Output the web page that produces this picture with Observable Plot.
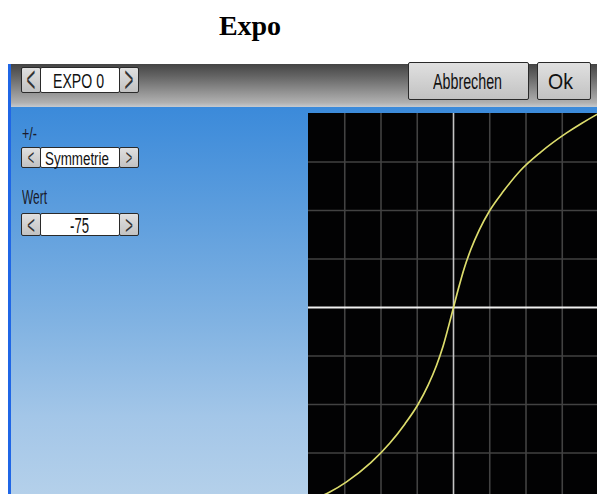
<!DOCTYPE html>
<html>
<head>
<meta charset="utf-8">
<script src="https://cdn.jsdelivr.net/npm/d3@7"></script>
<script src="https://cdn.jsdelivr.net/npm/@observablehq/plot@0.6"></script>
<style>
  html, body { margin: 0; padding: 0; background: #fff; width: 597px; height: 494px; overflow: hidden; }
  .abs { position: absolute; box-sizing: border-box; }
  #title { left: 0; top: 9px; width: 500px; text-align: center; font-family: "Liberation Serif", "Times New Roman", serif; font-weight: bold; font-size: 28px; line-height: 34px; color: #000; }
  #header { left: 8px; top: 64px; width: 589px; height: 43px; background: linear-gradient(to bottom, #444 0%, #666 30%, #929292 65%, #b0b0b0 90%, #c6cacf 100%); }
  #panel { left: 8px; top: 107px; width: 589px; height: 387px; background: linear-gradient(to bottom, #3b8ada 0%, #5a9cdd 25%, #80b2e2 55%, #a3c6e8 80%, #b4d0ea 100%); }
  #edge { left: 8px; top: 64px; width: 3px; height: 430px; background: #1f66e6; }
  .btn { border: 1.5px solid #2a2a2a; border-radius: 2px; background: linear-gradient(to bottom, #e0e0e0, #c2c2c2); }
  .box { border: 1.5px solid #2a2a2a; border-radius: 2px; background: #fff; }
  .t { position: absolute; font-family: "Liberation Sans", Arial, sans-serif; color: #111; white-space: nowrap; transform-origin: left top; line-height: 1; }
  .arr { position: absolute; width: 20px; text-align: center; font-family: "Liberation Sans", Arial, sans-serif; color: #333; transform-origin: 50% 50%; white-space: nowrap; }
  #chart { position: absolute; left: 308px; top: 113px; }
</style>
</head>
<body>
<div id="title" class="abs">Expo</div>
<div id="header" class="abs"></div>
<div id="panel" class="abs"></div>
<div id="edge" class="abs"></div>
<div id="ui"></div>
<div id="chart"></div>
<script>
// ---- data ----
const titleText = "Expo";
const channelLabel = "EXPO 0";
const cancelLabel = "Abbrechen";
const okLabel = "Ok";
const modeLabel = "+/-";
const modeValue = "Symmetrie";
const valueLabel = "Wert";
const expoValue = -75;
const prevLabel = "<";
const nextLabel = ">";

const gridTicks = [-0.75, -0.5, -0.25, 0.25, 0.5, 0.75];
const axisTicks = [0];
const curveX = [-1, -0.85, -0.74, -0.57, -0.44, -0.335, -0.245, -0.175, -0.118, -0.072, -0.035, 0, 0.035, 0.073, 0.12, 0.178, 0.25, 0.345, 0.46, 0.6, 0.78, 0.885, 1];
const curveY = [-1, -0.95, -0.9, -0.8, -0.7, -0.6, -0.5, -0.4, -0.3, -0.2, -0.1, 0, 0.1, 0.2, 0.3, 0.4, 0.5, 0.6, 0.705, 0.8, 0.9, 0.95, 1];

// ---- UI widgets (HTML decoration) ----
const ui = document.getElementById("ui");
function el(cls, css) {
  const d = document.createElement("div");
  d.className = "abs " + cls;
  d.style.cssText = css;
  ui.appendChild(d);
  return d;
}
// text placed with its left/top, font size and a target width (condensed look)
function txt(text, left, top, size, width, color) {
  const s = document.createElement("span");
  s.className = "t";
  s.textContent = text;
  s.style.left = left + "px";
  s.style.top = top + "px";
  s.style.fontSize = size + "px";
  if (color) s.style.color = color;
  ui.appendChild(s);
  const w = s.getBoundingClientRect().width;
  s.style.transform = `scaleX(${width / w})`;
  return s;
}
function arrowBtn(ch, left, top, h, fs, sy) {
  el("btn", `left:${left}px;top:${top}px;width:20px;height:${h}px;`);
  const s = document.createElement("span");
  s.className = "arr";
  s.textContent = ch;
  s.style.fontSize = fs + "px";
  s.style.lineHeight = fs + "px";
  s.style.left = left + "px";
  s.style.top = (top + h / 2 - fs / 2) + "px";
  s.style.transform = `scale(0.5, ${sy})`;
  ui.appendChild(s);
}
function selector(top, h, text, size, tw, tl, afs, asy) {
  arrowBtn(prevLabel, 21, top, h, afs, asy);
  el("box", `left:40px;top:${top}px;width:80px;height:${h}px;`);
  arrowBtn(nextLabel, 119, top, h, afs, asy);
  txt(text, tl, top + (h - size) / 2 + 1, size, tw);
}
selector(67, 26, channelLabel, 20, 51, 53, 30, 1.2);
el("btn", "left:408px;top:62px;width:121px;height:38px;");
el("btn", "left:537px;top:62px;width:54px;height:38px;");
txt(cancelLabel, 433, 71, 22, 69);
txt(okLabel, 548, 71, 22, 25);
txt(modeLabel, 22, 124, 19, 15, "#1a1a2a");
selector(147, 21, modeValue, 18, 64, 45, 22, 1);
txt(valueLabel, 22, 187, 20, 25, "#1a1a2a");
selector(213, 23, String(expoValue), 22, 19, 70, 26, 1);

// ---- chart ----
const data = curveX.map((x, i) => ({x, y: curveY[i]}));
const chart = Plot.plot({
  width: 289,
  height: 381,
  margin: 0,
  x: {domain: [-1, 0.993], axis: null},
  y: {domain: [-0.964, 1], axis: null},
  style: {background: "#020203", overflow: "hidden"},
  marks: [
    Plot.frame({fill: "#020203", stroke: null}),
    Plot.ruleX(gridTicks, {stroke: "#424242", strokeWidth: 1.6}),
    Plot.ruleY(gridTicks, {stroke: "#424242", strokeWidth: 1.6}),
    Plot.ruleX(axisTicks, {stroke: "#c4c4c4", strokeWidth: 1.6}),
    Plot.ruleY(axisTicks, {stroke: "#f0f0f0", strokeWidth: 2}),
    Plot.line(data, {x: "x", y: "y", curve: "monotone-x", stroke: "#dcdc6c", strokeWidth: 1.7, clip: true})
  ]
});
document.getElementById("chart").appendChild(chart);
</script>
</body>
</html>
